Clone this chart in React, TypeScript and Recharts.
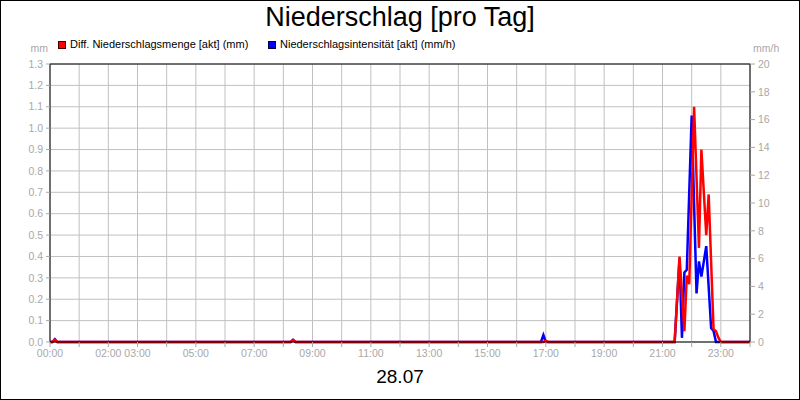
import { LineChart, Line, XAxis, YAxis, CartesianGrid, ReferenceLine } from "recharts";

// Diff. Niederschlagsmenge (mm), red, left axis
const amountTimes = [
  "00:00", "00:05", "00:10", "00:15", "08:15", "08:20", "08:25", "16:55", "17:00", "17:05",
  "21:25", "21:35", "21:45", "21:50", "21:55", "22:05", "22:15", "22:20", "22:30", "22:35",
  "22:45", "22:50", "22:55", "23:00", "24:00",
];
const amountMm = [
  0, 0, 0.01, 0, 0, 0.01, 0, 0, 0.005, 0,
  0, 0.4, 0.05, 0.31, 0.27, 1.1, 0.44, 0.9, 0.5, 0.69,
  0.06, 0.05, 0.02, 0, 0,
];

// Niederschlagsintensität (mm/h), blue, right axis
const intensityTimes = [
  "00:00", "00:05", "00:10", "00:15", "08:15", "08:20", "08:25", "16:50", "16:55", "17:00",
  "21:25", "21:35", "21:40", "21:45", "21:50", "22:00", "22:10", "22:15", "22:20", "22:30",
  "22:40", "22:45", "22:50", "24:00",
];
const intensityMmH = [
  0, 0, 0.2, 0, 0, 0.15, 0, 0, 0.5, 0,
  0, 6.0, 0.3, 5.0, 5.2, 16.3, 3.5, 5.8, 4.7, 6.9,
  1.0, 0.8, 0, 0,
];

const hourTicks = [0, 1, 2, 3, 4, 5, 6, 7, 8, 9, 10, 11, 12, 13, 14, 15, 16, 17, 18, 19, 20, 21, 22, 23, 24];
const labelledHours = [0, 2, 3, 5, 7, 9, 11, 13, 15, 17, 19, 21, 23];
const mmTicks = [0, 0.1, 0.2, 0.3, 0.4, 0.5, 0.6, 0.7, 0.8, 0.9, 1.0, 1.1, 1.2, 1.3];
const mmhTicks = [0, 2, 4, 6, 8, 10, 12, 14, 16, 18, 20];

const toHours = (t: string) => {
  const [h, m] = t.split(":").map(Number);
  return h + m / 60;
};

const amountData = amountTimes.map((t, i) => ({ h: toHours(t), v: amountMm[i] }));
const intensityData = intensityTimes.map((t, i) => ({ h: toHours(t), v: intensityMmH[i] }));

const FONT = "'Liberation Sans', Arial, sans-serif";
const GRAY = "#a8a8a8";
const tickStyle = { fill: GRAY, fontSize: 10.5, fontFamily: FONT };

const fmtHour = (h: number) =>
  labelledHours.includes(h) ? `${String(h).padStart(2, "0")}:00` : "";

export default function App() {
  return (
    <div style={{ position: "relative", width: 800, height: 400, fontFamily: FONT, background: "#fff" }}>
      <style>{"body{margin:0}"}</style>
      <LineChart width={800} height={400} margin={{ top: 64, right: 0, bottom: 28, left: 0 }}>
        <CartesianGrid stroke="#c0c0c0" yAxisId="left" />
        <XAxis
          dataKey="h"
          type="number"
          domain={[0, 24]}
          ticks={hourTicks}
          interval={0}
          tickFormatter={fmtHour}
          height={30}
          tickSize={5}
          tickMargin={3}
          tick={tickStyle}
          axisLine={{ stroke: "#000" }}
          tickLine={{ stroke: GRAY }}
        />
        <YAxis
          yAxisId="left"
          domain={[0, 1.3]}
          ticks={mmTicks}
          interval={0}
          tickFormatter={(v: number) => v.toFixed(1)}
          width={50}
          tickSize={4}
          tickMargin={3}
          tick={tickStyle}
          axisLine={{ stroke: "#000" }}
          tickLine={{ stroke: GRAY }}
        />
        <YAxis
          yAxisId="right"
          orientation="right"
          domain={[0, 20]}
          ticks={mmhTicks}
          interval={0}
          width={50}
          tickSize={5}
          tickMargin={3}
          tick={tickStyle}
          axisLine={{ stroke: "#000" }}
          tickLine={{ stroke: GRAY }}
        />
        <ReferenceLine yAxisId="left" y={1.3} stroke="#000" />
        <Line
          yAxisId="right"
          data={intensityData}
          dataKey="v"
          type="linear"
          stroke="#0000ff"
          strokeWidth={2.5}
          dot={false}
          isAnimationActive={false}
        />
        <Line
          yAxisId="left"
          data={amountData}
          dataKey="v"
          type="linear"
          stroke="#ff0000"
          strokeWidth={2.5}
          dot={false}
          isAnimationActive={false}
        />
      </LineChart>

      <div style={{ position: "absolute", top: 4, left: 0, width: 800, textAlign: "center", fontSize: 27, lineHeight: 1 }}>
        Niederschlag [pro Tag]
      </div>

      <div style={{ position: "absolute", top: 41, left: 58, width: 6, height: 6, background: "#ff0000", border: "1px solid #400" }} />
      <div style={{ position: "absolute", top: 39, left: 70, fontSize: 11, lineHeight: 1, whiteSpace: "nowrap" }}>
        Diff. Niederschlagsmenge [akt] (mm)
      </div>
      <div style={{ position: "absolute", top: 41, left: 268, width: 6, height: 6, background: "#0000ff", border: "1px solid #004" }} />
      <div style={{ position: "absolute", top: 39, left: 280, fontSize: 11, lineHeight: 1, whiteSpace: "nowrap" }}>
        Niederschlagsintensität [akt] (mm/h)
      </div>

      <div style={{ position: "absolute", top: 43, right: 752, fontSize: 10.5, lineHeight: 1, color: GRAY }}>mm</div>
      <div style={{ position: "absolute", top: 43, left: 753, fontSize: 10.5, lineHeight: 1, color: GRAY }}>mm/h</div>

      <div style={{ position: "absolute", top: 367, left: 0, width: 800, textAlign: "center", fontSize: 19, lineHeight: 1 }}>
        28.07
      </div>

      <div style={{ position: "absolute", top: 0, left: 0, width: 800, height: 400, boxSizing: "border-box", border: "1px solid #000", pointerEvents: "none" }} />
    </div>
  );
}
